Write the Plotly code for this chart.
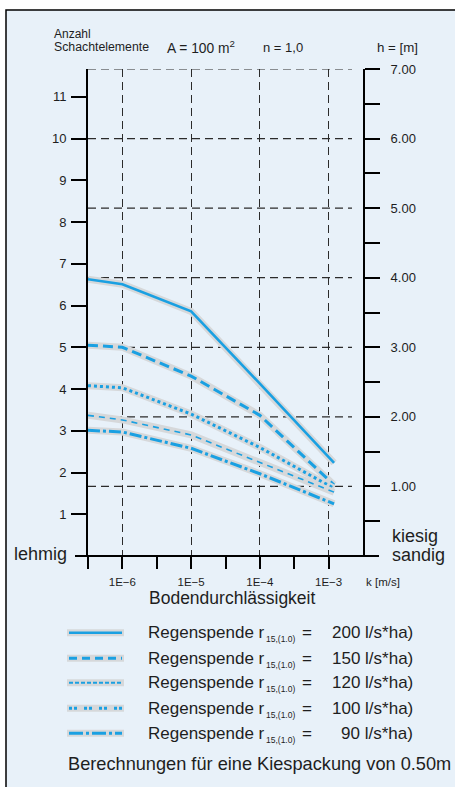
import plotly.graph_objects as go

# ---------------- data ----------------
k_values = [3.16e-7, 1e-6, 1e-5, 1e-4, 1.2e-3]          # Bodendurchlässigkeit k [m/s]
r200 = [6.63, 6.51, 5.86, 4.13, 2.23]                    # Anzahl Schachtelemente
r150 = [5.05, 5.00, 4.31, 3.37, 1.70]
r120 = [4.08, 4.03, 3.40, 2.60, 1.62]
r100 = [3.37, 3.26, 2.90, 2.24, 1.53]
r90 = [3.01, 2.97, 2.58, 1.97, 1.25]
series_names = ["200 l/s*ha)", "150 l/s*ha)", "120 l/s*ha)", "100 l/s*ha)", "90 l/s*ha)"]
left_ticks = [1, 2, 3, 4, 5, 6, 7, 8, 9, 10, 11]
right_ticks = [1, 2, 3, 4, 5, 6, 7]
right_minor = [0.5, 1.5, 2.5, 3.5, 4.5, 5.5, 6.5]
x_major = [1e-6, 1e-5, 1e-4, 1e-3]
x_major_text = ["1E−6", "1E−5", "1E−4", "1E−3"]
x_minor = [10 ** -6.5, 10 ** -5.5, 10 ** -4.5, 10 ** -3.5]

# ---------------- layout geometry ----------------
W, H = 455, 787
ML, MR, MT, MB = 88, 92, 69, 231
PW, PH = W - ML - MR, H - MT - MB
BOTTOM = MT + PH


def px(x):
    return (x - ML) / PW


def py(y):
    return (BOTTOM - y) / PH


FONT = "Liberation Sans, Arial, sans-serif"
TXT = "#1e1e1e"
BLUE = "#1aa0e2"
HALO = "#d6d8da"
GRID = "#2b2b2b"

styles = [
    dict(dash="solid", width=2.6),
    dict(dash="10px,5px", width=3),
    dict(dash="3px,3px", width=3),
    dict(dash="6px,5px", width=1.6),
    dict(dash="12px,3px,3px,3px", width=3),
]
legend_styles = [
    dict(dash="solid", width=2.6),
    dict(dash="8px,5px", width=3),
    dict(dash="4px,2px", width=2),
    dict(dash="3px,2px,3px,7px", width=3),
    dict(dash="14px,3px,3px,3px", width=3),
]

fig = go.Figure()

for ys, st in zip([r200, r150, r120, r100, r90], styles):
    fig.add_trace(go.Scatter(x=k_values, y=ys, mode="lines",
                             line=dict(color=HALO, width=7),
                             hoverinfo="skip", showlegend=False))
    fig.add_trace(go.Scatter(x=k_values, y=ys, mode="lines",
                             line=dict(color=BLUE, width=st["width"], dash=st["dash"]),
                             showlegend=False))

# invisible trace to activate right axis
fig.add_trace(go.Scatter(x=[k_values[0]], y=[0], yaxis="y2", mode="markers",
                         marker=dict(opacity=0), hoverinfo="skip", showlegend=False))

shapes = []
# background frame
shapes.append(dict(type="rect", xref="paper", yref="paper",
                   x0=px(6), x1=px(470), y0=py(10), y1=py(800),
                   fillcolor="#e8f1f9", line=dict(color="black", width=1.5), layer="below"))
# horizontal dashed grid lines (on h axis)
for h in right_ticks:
    shapes.append(dict(type="line", xref="x domain", yref="y2", x0=0, x1=px(352),
                       y0=h, y1=h, line=dict(color=GRID, width=1.2, dash="8px,5px"),
                       layer="below"))
# extended x axis line
shapes.append(dict(type="line", xref="paper", yref="paper", x0=px(75), x1=px(379),
                   y0=0, y1=0, line=dict(color="black", width=2)))
# left axis extension below x axis
shapes.append(dict(type="line", xref="paper", yref="paper", x0=0, x1=0,
                   y0=py(568), y1=0, line=dict(color="black", width=2)))

annotations = []


def txt(text, x, y, size, xanchor="left", yanchor="middle"):
    annotations.append(dict(text=text, x=px(x), y=py(y), xref="paper", yref="paper",
                            xanchor=xanchor, yanchor=yanchor, showarrow=False,
                            font=dict(family=FONT, size=size, color=TXT)))


# header
txt("Anzahl", 52, 34, 12)
txt("Schachtelemente", 52, 47.5, 12.3)
txt("A = 100 m<sup>2</sup>", 165, 47, 13.8)
txt("n = 1,0", 261, 47.5, 13)
txt("h = [m]", 375, 47.5, 13.3)
# soil labels
txt("lehmig", 12, 554, 18)
txt("kiesig", 390, 536, 18)
txt("sandig", 390, 555, 18)
txt("k [m/s]", 364, 582, 11.5)
txt("Bodendurchlässigkeit", 232, 598, 17.5, xanchor="center")

# legend
rows = [632.7, 658.3, 682.7, 708.3, 733.3]
for i, (row, name) in enumerate(zip(rows, series_names)):
    shapes.append(dict(type="line", xref="paper", yref="paper", x0=px(67), x1=px(124),
                       y0=py(row), y1=py(row), line=dict(color=HALO, width=7)))
    shapes.append(dict(type="line", xref="paper", yref="paper", x0=px(69), x1=px(122),
                       y0=py(row), y1=py(row),
                       line=dict(color=BLUE, width=legend_styles[i]["width"],
                                 dash=legend_styles[i]["dash"])))
    txt("Regenspende r", 146, row, 17)
    txt("15,(1.0)", 264, row + 6.5, 8.5)
    txt("=", 300, row, 17)
    txt(name, 415, row, 17, xanchor="right")
txt("Berechnungen für eine Kiespackung von 0.50m", 66, 763.5, 18.2)

fig.update_layout(
    width=W, height=H, autosize=False,
    margin=dict(l=ML, r=MR, t=MT, b=MB, pad=0),
    paper_bgcolor="white", plot_bgcolor="rgba(0,0,0,0)",
    font=dict(family=FONT, color=TXT),
    showlegend=False,
    shapes=shapes, annotations=annotations,
    xaxis=dict(type="log", range=[-6.5, -2.5], showline=False, zeroline=False,
               tickmode="array", tickvals=x_major, ticktext=x_major_text,
               ticks="outside", ticklen=12, tickwidth=2, tickcolor="black",
               tickfont=dict(size=11.5, family=FONT, color=TXT), ticklabelstandoff=3,
               showgrid=True, gridcolor=GRID, gridwidth=1.2, griddash="8px,5px",
               minor=dict(tickmode="array", tickvals=x_minor, ticks="outside",
                          ticklen=12, tickwidth=2, tickcolor="black", showgrid=False)),
    yaxis=dict(range=[0, 35 / 3], showline=True, linewidth=2, linecolor="black",
               zeroline=False, showgrid=False, tickmode="array", tickvals=left_ticks,
               ticks="outside", ticklen=15, tickwidth=2, tickcolor="black",
               tickfont=dict(size=13, family=FONT, color=TXT), ticklabelstandoff=2),
    yaxis2=dict(range=[0, 7], overlaying="y", side="right", anchor="x",
                showline=True, linewidth=2, linecolor="black", zeroline=False,
                showgrid=False, tickmode="array", tickvals=right_ticks,
                ticktext=[f"{v:.2f}" for v in right_ticks],
                ticks="outside", ticklen=15, tickwidth=2, tickcolor="black",
                tickfont=dict(size=13, family=FONT, color=TXT), ticklabelstandoff=8,
                minor=dict(tickmode="array", tickvals=right_minor, ticks="outside",
                           ticklen=15, tickwidth=2, tickcolor="black", showgrid=False)),
)

fig.write_html("out.html",
               config={"displayModeBar": False},
               post_script="document.body.style.margin='0';"
                           "document.body.style.overflow='hidden';")
